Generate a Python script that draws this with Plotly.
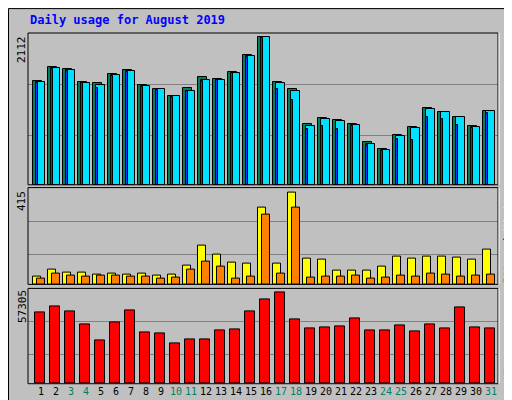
import plotly.graph_objects as go

days = list(range(1, 32))
weekend = [3, 4, 10, 11, 17, 18, 24, 25, 31]

hits = [1481, 1682, 1653, 1467, 1453, 1582, 1639, 1424, 1367, 1266, 1381, 1539, 1510, 1610, 1854, 2112,
        1467, 1367, 865, 951, 922, 865, 607, 506, 707, 822, 1099, 1037, 965, 836, 1051]
files = [1467, 1668, 1639, 1453, 1424, 1567, 1624, 1410, 1367, 1266, 1338, 1495, 1495, 1596, 1840, 2112,
         1453, 1338, 836, 937, 908, 851, 578, 492, 693, 808, 1080, 1037, 965, 822, 1051]
pages = [1453, 1653, 1624, 1453, 1381, 1553, 1610, 1395, 1352, 1252, 1338, 1481, 1495, 1596, 1825, 2098,
         1367, 1209, 793, 836, 793, 836, 564, 478, 650, 635, 965, 936, 850, 807, 1022]
visits = [36, 68, 54, 54, 45, 50, 45, 50, 41, 45, 86, 176, 135, 99, 95, 347,
          95, 415, 117, 113, 63, 63, 63, 81, 126, 117, 126, 126, 122, 113, 158]
sites = [27, 50, 41, 36, 41, 41, 36, 36, 27, 32, 68, 104, 81, 27, 36, 316,
         50, 347, 32, 36, 36, 41, 27, 32, 41, 36, 50, 45, 36, 41, 45]
kbytes = [44747, 48511, 45375, 37220, 27183, 38474, 46002, 32201, 31574, 25301, 27810, 27810, 33456, 34083,
          45375, 52902, 57305, 40356, 34711, 35338, 35965, 40984, 33456, 33456, 36593, 32829, 37220, 34711,
          47884, 35338, 34711]

MONO = "DejaVu Sans Mono"
line = dict(color="black", width=1)

fig = go.Figure()

def bars(y, color, offset, width, axis):
    fig.add_trace(go.Bar(x=days, y=y, marker=dict(color=color, line=line), offset=offset, width=width,
                         xaxis="x" + axis, yaxis="y" + axis, showlegend=False, hoverinfo="y"))

bars(hits, "#00805C", -0.51, 0.6, "")
bars(files, "#00E0FF", -0.33, 0.6, "")
bars(pages, "#0040FF", -0.33, 0.15, "")
bars(visits, "#FFFF00", -0.51, 0.53, "2")
bars(sites, "#FF8000", -0.25, 0.49, "2")
bars(kbytes, "#FF0000", -0.42, 0.67, "3")

xd = [20 / 512, 490 / 512]
xr = [0.133, 31.467]
ticktext = [("<span style='color:#008060'>%d</span>" % d) if d in weekend else str(d) for d in days]
common_x = dict(range=xr, domain=xd, showgrid=False, zeroline=False, fixedrange=True)
fig.update_layout(
    width=512, height=400, margin=dict(l=0, r=0, t=0, b=0),
    paper_bgcolor="#C0C0C0", plot_bgcolor="#C0C0C0", barmode="overlay", bargap=0,
    font=dict(family=MONO, size=11, color="black"),
    xaxis=dict(common_x, showticklabels=False, anchor="y"),
    xaxis2=dict(common_x, showticklabels=False, anchor="y2"),
    xaxis3=dict(common_x, anchor="y3", tickmode="array", tickvals=days, ticktext=ticktext,
                ticks="", tickangle=0, ticklen=0, tickfont=dict(family=MONO, size=10)),
    yaxis=dict(domain=[0.558, 0.9375], range=[0, 2174], showticklabels=False, zeroline=False,
               tickmode="array", tickvals=[712, 1443], gridcolor="#808080", anchor="x"),
    yaxis2=dict(domain=[0.309, 0.551], range=[0, 435.8], showticklabels=False, zeroline=False,
                tickmode="array", tickvals=[135, 284], gridcolor="#808080", anchor="x2"),
    yaxis3=dict(domain=[0.0607, 0.299], range=[0, 59813], showticklabels=False, zeroline=False,
                tickmode="array", tickvals=[18400, 39100], gridcolor="#808080", anchor="x3"),
)

# frame and panel boxes
shapes = [dict(type="rect", xref="paper", yref="paper", x0=0.001, x1=0.999, y0=0.0015, y1=0.9985,
               line=dict(color="black", width=1)),
          dict(type="line", xref="paper", yref="paper", x0=0.99, x1=0.99, y0=0.012, y1=0.99,
               line=dict(color="#808080", width=2)),
          dict(type="line", xref="paper", yref="paper", x0=0.012, x1=0.99, y0=0.012, y1=0.012,
               line=dict(color="#808080", width=2))]
for d in ([0.558, 0.9375], [0.309, 0.551], [0.0607, 0.299]):
    shapes.append(dict(type="rect", xref="paper", yref="paper", x0=xd[0], x1=xd[1], y0=d[0], y1=d[1],
                       line=dict(color="black", width=1)))
    shapes.append(dict(type="line", xref="paper", yref="paper", x0=xd[1] + 0.002, x1=xd[1] + 0.002,
                       y0=d[0], y1=d[1], line=dict(color="white", width=1)))
fig.update_layout(shapes=shapes)

ann = [
    dict(x=20 / 512, y=1 - 12 / 400, text="<b>Daily usage for August 2019</b>", xanchor="left",
         font=dict(color="#0000FF", size=12, family=MONO)),
    dict(x=14 / 512, y=1 - 42 / 400, text="2112", textangle=-90),
    dict(x=14 / 512, y=1 - 193 / 400, text="415", textangle=-90),
    dict(x=14 / 512, y=1 - 299 / 400, text="57305", textangle=-90),
    dict(x=500 / 512, y=1 - 85 / 400, textangle=-90,
         text="<span style='color:#00C0E0'>Pages</span> / <span style='color:#0060FF'>Files</span> / "
              "<span style='color:#008060'>Hits</span>"),
    dict(x=500 / 512, y=1 - 230 / 400, textangle=-90,
         text="<span style='color:#FF8000'>Sites</span> / <span style='color:#FFFF00'>Visits</span>"),
    dict(x=500 / 512, y=1 - 352 / 400, textangle=-90, text="<span style='color:#FF0000'>KBytes</span>"),
]
for a in ann:
    a.update(xref="paper", yref="paper", showarrow=False)
    a.setdefault("xanchor", "center")
    a.setdefault("yanchor", "middle")
    a.setdefault("font", dict(family=MONO, size=11))
fig.update_layout(annotations=ann)

fig.write_html("out.html")
